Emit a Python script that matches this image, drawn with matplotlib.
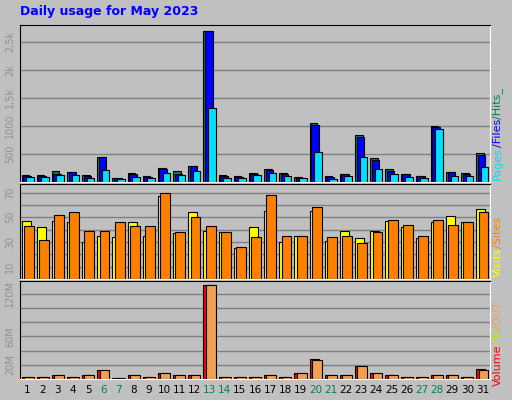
import numpy as np
import matplotlib.pyplot as plt

days = np.arange(1, 32)
weekend = [6, 7, 13, 14, 20, 21, 27, 28]

hits = [120, 120, 190, 170, 120, 450, 80, 160, 100, 250, 190, 290, 2700, 120, 100, 160,
        240, 160, 90, 1050, 100, 140, 830, 420, 230, 140, 100, 1000, 170, 160, 510]
files = [115, 115, 150, 170, 115, 450, 70, 140, 95, 230, 150, 290, 2700, 110, 95, 150,
         210, 140, 80, 1020, 85, 140, 810, 400, 190, 135, 100, 975, 170, 140, 490]
pages = [85, 85, 130, 125, 75, 210, 60, 90, 70, 160, 125, 190, 1320, 75, 70, 130,
         160, 110, 70, 540, 45, 110, 450, 240, 145, 85, 70, 940, 110, 110, 260]
visits = [47, 42, 47, 46, 30, 35, 34, 46, 35, 67, 37, 54, 39, 38, 25, 42,
          55, 30, 35, 55, 31, 39, 33, 39, 47, 42, 33, 46, 51, 46, 57]
sites = [43, 32, 52, 54, 39, 39, 46, 43, 43, 70, 38, 50, 43, 38, 26, 34,
         68, 35, 35, 58, 34, 35, 29, 38, 48, 44, 35, 48, 44, 46, 54]
vol_in = [2.5, 2.5, 5, 2.5, 5, 12, 1, 5, 2.5, 8, 5, 6, 132, 2.5, 2.5, 2.5,
          5, 2.5, 8, 28, 5, 5, 18, 9, 5, 2.5, 2.5, 5, 5, 2.5, 14]
vol_out = [2.5, 2.5, 5, 2.5, 5, 12, 1, 5, 2.5, 8, 5, 6, 132, 2.5, 2.5, 2.5,
           5, 2.5, 8, 27, 5, 5, 18, 9, 5, 2.5, 2.5, 5, 5, 2.5, 12]

BG = '#C0C0C0'
W, H = 512, 400
fig = plt.figure(figsize=(W / 100, H / 100), dpi=100, facecolor=BG)


def px_axes(x0, y0, x1, y1):
    ax = fig.add_axes([x0 / W, 1 - y1 / H, (x1 - x0) / W, (y1 - y0) / H])
    ax.set_facecolor(BG)
    ax.set_xlim(0.5, 31.5)
    for s in ax.spines.values():
        s.set_color('black')
    ax.spines['right'].set_color('white')
    ax.spines['bottom'].set_color('white')
    ax.tick_params(length=0, labelsize=7, labelcolor='#909090')
    ax.set_axisbelow(True)
    ax.grid(axis='y', color='#808080', lw=1)
    return ax


def bars(ax, vals, off, width, color):
    ax.bar(days + off, vals, width=width, color=color, edgecolor='black', lw=0.8, align='edge')


# top panel: hits / files / pages
ax1 = px_axes(20, 25, 490, 182)
bars(ax1, hits, -0.4, 0.5, '#00805C')
bars(ax1, files, -0.3, 0.5, '#0000FF')
bars(ax1, pages, -0.1, 0.5, '#00E0FF')
ax1.set_ylim(0, 2800)
ax1.set_yticks([500, 1000, 1500, 2000, 2500])
ax1.set_yticklabels(['500', '1000', '1,5k', '2k', '2,5k'], rotation=90, va='center')
ax1.set_xticks([])

# middle panel: visits / sites
ax2 = px_axes(20, 184, 490, 279)
bars(ax2, visits, -0.4, 0.6, '#FFFF00')
bars(ax2, sites, -0.25, 0.65, '#FF8000')
ax2.set_ylim(0, 77)
ax2.set_yticks(range(10, 80, 10))
ax2.set_yticklabels(['10', '', '30', '', '50', '', '70'], rotation=90, va='center')
ax2.set_xticks([])

# bottom panel: volume
ax3 = px_axes(20, 281, 490, 379)
bars(ax3, vol_in, -0.4, 0.6, '#FF0000')
bars(ax3, vol_out, -0.25, 0.65, '#F0A050')
ax3.set_ylim(0, 138)
ax3.set_yticks(range(20, 140, 20))
ax3.set_yticklabels(['20M', '', '60M', '', '', '120M'], rotation=90, va='center')
ax3.set_xticks(days)
ax3.set_xticklabels([str(d) for d in days], fontsize=7.5)
ax3.tick_params(axis='x', labelcolor='black', pad=4)
for lbl, d in zip(ax3.get_xticklabels(), days):
    if d in weekend:
        lbl.set_color('#00805C')

fig.text(20 / W, 1 - 12 / H, 'Daily usage for May 2023', color='#0000FF',
         fontsize=9, fontweight='bold', va='center', ha='left')

renderer = fig.canvas.get_renderer()


def side(parts, y_bottom):
    # stack coloured pieces upward from y_bottom (pixels from top)
    y = H - y_bottom
    for txt, color in parts:
        t = fig.text(498 / W, y / H, txt, color=color, rotation=90,
                     fontsize=8, ha='center', va='bottom')
        y += t.get_window_extent(renderer).height


side([('Pages', '#00E0FF'), ('/Files', '#0000FF'), ('/Hits_', '#00805C')], 180)
side([('Visits', '#FFFF00'), ('/Sites', '#FF8000')], 277)
side([('Volume', '#FF0000'), ('/IN', '#C0E000'), ('/OUT', '#F0A050')], 386)

fig.savefig('out.png', dpi=100, facecolor=BG)
